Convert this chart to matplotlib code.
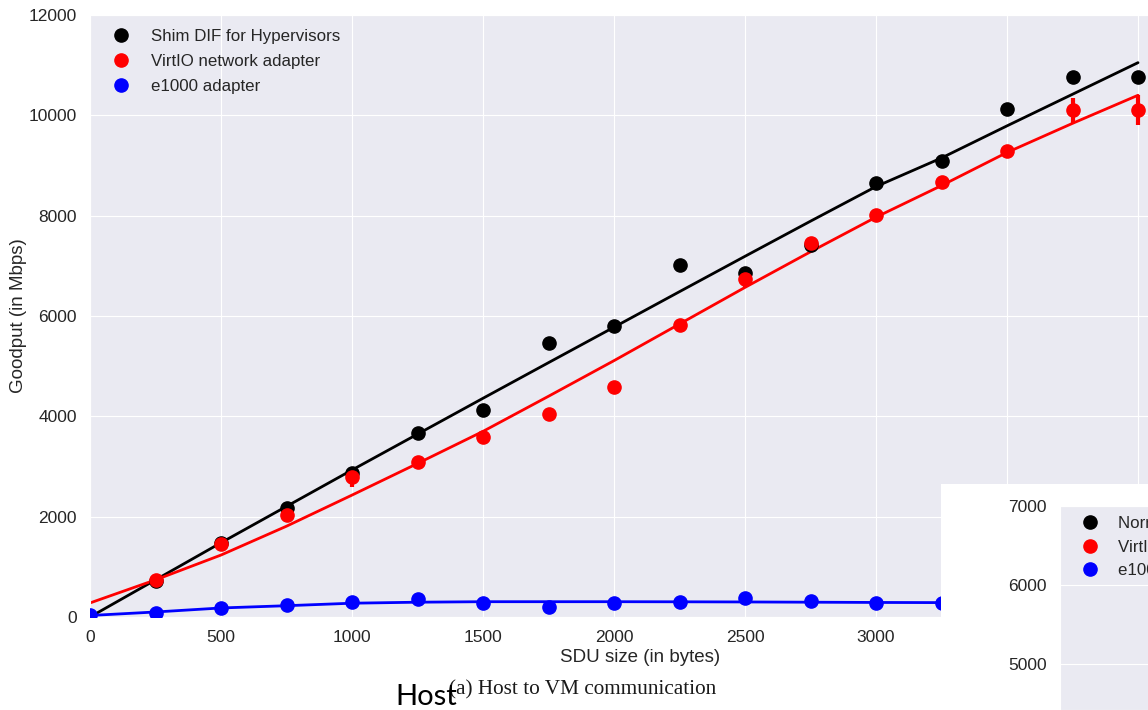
import numpy as np
import matplotlib
matplotlib.use("Agg")
from matplotlib import pyplot as plt
from matplotlib.patches import Rectangle
from matplotlib.lines import Line2D
import seaborn as sns

# SDU sizes (bytes)
sdu = [250, 500, 750, 1000, 1250, 1500, 1750, 2000, 2250, 2500,
       2750, 3000, 3250, 3500, 3750, 4000]

# measured goodput (Mbps)
shim = [720, 1470, 2180, 2870, 3660, 4120, 5470, 5800, 7010, 6850,
        7410, 8650, 9080, 10120, 10760, 10760]
shim_err = [40, 40, 40, 50, 50, 50, 50, 50, 50, 80,
            60, 60, 60, 60, 120, 120]
virtio = [740, 1460, 2040, 2800, 3080, 3590, 4050, 4580, 5820, 6740,
          7450, 8010, 8680, 9290, 10100, 10100]
virtio_err = [40, 40, 60, 200, 60, 60, 50, 50, 120, 170,
              130, 60, 60, 60, 250, 300]
e1000_x = [0, 250, 500, 750, 1000, 1250, 1500, 1750, 2000, 2250,
           2500, 2750, 3000, 3250, 3500, 3750, 4000]
e1000 = [30, 80, 180, 230, 290, 360, 270, 200, 270, 300,
         370, 320, 280, 270, 280, 280, 280]

# fitted curves
fit_x = [0, 250, 500, 750, 1000, 1250, 1500, 1750, 2000, 2250, 2500,
         2750, 3000, 3250, 3500, 3750, 4000]
shim_fit = [0, 740, 1480, 2205, 2930, 3645, 4360, 5070, 5777, 6485, 7190,
            7890, 8580, 9150, 9790, 10420, 11050]
virtio_fit = [280, 740, 1235, 1810, 2430, 3060, 3700, 4400, 5110, 5840, 6570,
              7280, 7970, 8600, 9260, 9840, 10400]
e1000_fit = [30, 100, 180, 225, 275, 295, 305, 305, 305, 303, 300,
             295, 290, 287, 285, 282, 280]

xticks = [0, 500, 1000, 1500, 2000, 2500, 3000, 3500, 4000]
yticks = [0, 2000, 4000, 6000, 8000, 10000, 12000]
inset_yticks = [5000, 6000, 7000]
labels = ["Shim DIF for Hypervisors", "VirtIO network adapter", "e1000 adapter"]
inset_labels = ["Normal DIF", "VirtIO network adapter", "e1000 adapter"]
colors = ["black", "red", "blue"]

sns.set_style("darkgrid")
plt.rcParams["font.family"] = ["Liberation Sans", "DejaVu Sans"]
text_col = "#262626"

W, H = 1148, 710
fig = plt.figure(figsize=(W / 100, H / 100), dpi=100)
fig.patch.set_facecolor("white")

# main axes: x 0 -> px 90, 0.262 px per byte; y 0..12000 from px 617 to 15
x_max = 4200
ax_w = x_max * 0.262
ax = fig.add_axes([90 / W, (H - 617) / H, ax_w / W, (617 - 15) / H])

ax.plot(fit_x, shim_fit, color="black", lw=2, zorder=2)
ax.plot(fit_x, virtio_fit, color="red", lw=2, zorder=2)
ax.plot(fit_x, e1000_fit, color="blue", lw=2, zorder=2)
ax.errorbar(sdu, shim, yerr=shim_err, fmt="o", color="black", ms=9.5,
            elinewidth=3, capsize=0, zorder=3)
ax.errorbar(sdu, virtio, yerr=virtio_err, fmt="o", color="red", ms=9.5,
            elinewidth=3, capsize=0, zorder=3)
ax.plot(e1000_x, e1000, "o", color="blue", ms=9.5, zorder=3)

ax.set_xlim(0, x_max)
ax.set_ylim(0, 12000)
ax.set_xticks(xticks)
# labels past 3250 lie under the pasted second figure
ax.set_xticklabels([str(t) if t <= 3000 else "" for t in xticks])
ax.set_yticks(yticks)
ax.tick_params(labelsize=12.5, labelcolor=text_col, pad=6)
ax.set_xlabel("SDU size (in bytes)", fontsize=13.5, color=text_col, labelpad=3)
ax.set_ylabel("Goodput (in Mbps)", fontsize=13.5, color=text_col)
ax.yaxis.set_label_coords((27 - 90) / ax_w, 0.5)

def dot_handles():
    return [Line2D([], [], ls="none", marker="o", ms=9.5, color=c) for c in colors]

ax.legend(dot_handles(), labels, loc="upper left", bbox_to_anchor=(6 / ax_w, 1),
          frameon=False, fontsize=12.2, handletextpad=1.15, borderaxespad=0.5,
          labelspacing=0.6, handlelength=1.3, borderpad=0.3)

# overlapping second figure at the bottom right
fig.patches.append(Rectangle((941 / W, 0), (W - 941) / W, (H - 484) / H,
                             transform=fig.transFigure, facecolor="white",
                             edgecolor="none", zorder=5))
ins = fig.add_axes([1060 / W, 0, 300 / W, (H - 506) / H], zorder=6)
ins.set_ylim(7000 - (H - 506) / 79 * 1000, 7000)
ins.set_xlim(0, 1)
ins.set_yticks(inset_yticks)
ins.set_xticks([])
ins.tick_params(labelsize=12.5, labelcolor=text_col, pad=6)
ins.legend(dot_handles(), inset_labels, loc="upper left",
           bbox_to_anchor=(9 / 300, 1), frameon=False, fontsize=12.2,
           handletextpad=1.0, borderaxespad=0.4, labelspacing=0.5,
           handlelength=1.3, borderpad=0.2)

# caption underneath
fig.text(583 / W, 1 - 690 / H, "(a) Host to VM communication",
         family="Liberation Serif", fontsize=15.3, color="#1a1a1a",
         ha="center", va="center")
fig.text(395 / W, 1 - 697 / H, "Host", family="Lato", fontsize=21,
         color="black", ha="left", va="center", zorder=10)

fig.savefig("out.png", dpi=100)
